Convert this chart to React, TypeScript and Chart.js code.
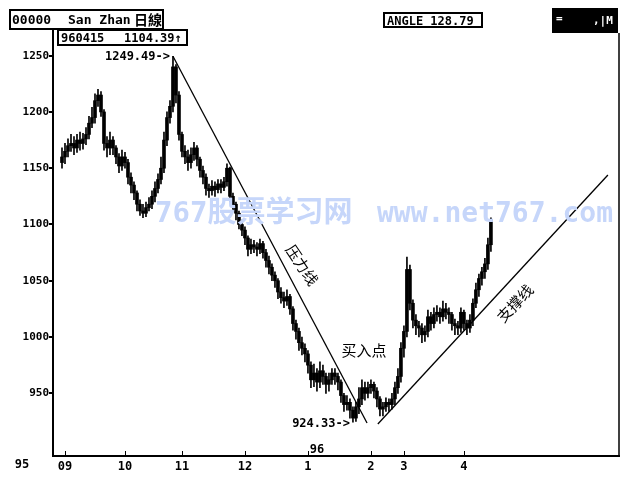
import React, { useEffect, useRef } from "react";
import { Chart, registerables } from "chart.js";
Chart.register(...registerables);

// Month tick positions (trading-day index) and labels
const monthTickIdx = [1, 21, 40, 61, 82, 103, 114, 134];
const monthLabels = ["09", "10", "11", "12", "1", "2", "3", "4"];
const yTickValues = [950, 1000, 1050, 1100, 1150, 1200, 1250];

// Daily OHLC, Sep 1995 - 15 Apr 1996
const opens = [
  1155, 1160, 1165, 1170, 1172, 1168, 1175, 1172, 1176, 1180,
  1190, 1195, 1210, 1215, 1200, 1172, 1168, 1175, 1168, 1160,
  1152, 1160, 1155, 1142, 1135, 1128, 1118, 1112, 1110, 1115,
  1118, 1125, 1132, 1140, 1150, 1175, 1195, 1205, 1240, 1215,
  1180, 1165, 1160, 1155, 1162, 1168, 1158, 1148, 1142, 1132,
  1130, 1134, 1131, 1136, 1133, 1138, 1150, 1125, 1118, 1110,
  1100, 1095, 1088, 1078, 1082, 1080, 1078, 1083, 1075, 1068,
  1062, 1055, 1050, 1040, 1035, 1032, 1036, 1025, 1012, 1005,
  995, 990, 985, 975, 962, 968, 960, 970, 965, 958,
  962, 968, 965, 960, 948, 940, 942, 935, 928, 938,
  945, 955, 950, 955, 958, 952, 945, 936, 938, 942,
  940, 945, 955, 965, 990, 1005, 1060, 1030, 1015, 1010,
  1008, 1002, 1005, 1018, 1012, 1020, 1022, 1018, 1025, 1022,
  1020, 1012, 1010, 1008, 1022, 1012, 1008, 1015, 1030, 1042,
  1052, 1058, 1065, 1082,
];
const closes = [
  1160, 1165, 1170, 1172, 1168, 1175, 1172, 1176, 1180, 1190,
  1195, 1210, 1215, 1200, 1172, 1168, 1175, 1168, 1160, 1152,
  1160, 1155, 1142, 1135, 1128, 1118, 1112, 1110, 1115, 1118,
  1125, 1132, 1140, 1150, 1175, 1195, 1205, 1240, 1215, 1180,
  1165, 1160, 1155, 1162, 1168, 1158, 1148, 1142, 1132, 1130,
  1134, 1131, 1136, 1133, 1138, 1150, 1125, 1118, 1110, 1100,
  1095, 1088, 1078, 1082, 1080, 1078, 1083, 1075, 1068, 1062,
  1055, 1050, 1040, 1035, 1032, 1036, 1025, 1012, 1005, 995,
  990, 985, 975, 962, 968, 960, 970, 965, 958, 962,
  968, 965, 960, 948, 940, 942, 935, 928, 938, 945,
  955, 950, 955, 958, 952, 945, 936, 938, 942, 940,
  945, 955, 965, 990, 1005, 1060, 1030, 1015, 1010, 1008,
  1002, 1005, 1018, 1012, 1020, 1022, 1018, 1025, 1022, 1020,
  1012, 1010, 1008, 1022, 1012, 1008, 1015, 1030, 1042, 1052,
  1058, 1065, 1082, 1104.39,
];
const highs = [
  1168, 1172, 1176, 1180, 1178, 1180, 1182, 1181, 1186, 1196,
  1204, 1216, 1220, 1218, 1202, 1178, 1182, 1178, 1170, 1163,
  1166, 1164, 1158, 1146, 1138, 1130, 1122, 1118, 1120, 1124,
  1130, 1138, 1145, 1160, 1182, 1200, 1210, 1249.49, 1242, 1218,
  1182, 1170, 1166, 1168, 1173, 1170, 1160, 1152, 1145, 1136,
  1139, 1138, 1140, 1140, 1142, 1154, 1151, 1128, 1120, 1112,
  1104, 1098, 1090, 1087, 1086, 1084, 1087, 1085, 1078, 1072,
  1065, 1058, 1052, 1044, 1040, 1042, 1038, 1027, 1015, 1008,
  1000, 994, 988, 978, 976, 972, 978, 975, 968, 968,
  972, 972, 968, 962, 950, 948, 945, 938, 942, 955,
  962, 960, 960, 962, 960, 955, 947, 942, 946, 945,
  950, 960, 972, 995, 1010, 1071, 1064, 1033, 1020, 1014,
  1012, 1010, 1024, 1022, 1026, 1028, 1026, 1032, 1030, 1026,
  1022, 1016, 1014, 1026, 1024, 1015, 1020, 1034, 1048, 1056,
  1062, 1070, 1088, 1106,
];
const lows = [
  1150, 1154, 1160, 1165, 1162, 1164, 1166, 1167, 1171, 1176,
  1186, 1190, 1205, 1196, 1166, 1160, 1162, 1162, 1154, 1146,
  1148, 1150, 1136, 1128, 1122, 1112, 1108, 1106, 1107, 1112,
  1114, 1120, 1128, 1136, 1146, 1170, 1190, 1200, 1208, 1175,
  1160, 1154, 1148, 1150, 1157, 1152, 1142, 1136, 1126, 1124,
  1126, 1125, 1128, 1128, 1130, 1134, 1120, 1112, 1104, 1096,
  1090, 1082, 1072, 1074, 1075, 1072, 1074, 1070, 1062, 1056,
  1050, 1044, 1034, 1030, 1026, 1028, 1020, 1006, 998, 988,
  984, 978, 968, 955, 956, 952, 955, 958, 950, 952,
  958, 958, 953, 942, 934, 935, 928, 924.33, 925, 932,
  940, 944, 946, 950, 946, 938, 930, 930, 934, 934,
  936, 940, 950, 960, 982, 1000, 1024, 1008, 1002, 1000,
  995, 996, 1000, 1006, 1008, 1014, 1012, 1014, 1016, 1012,
  1006, 1002, 1002, 1004, 1006, 1002, 1004, 1010, 1026, 1036,
  1046, 1052, 1060, 1076,
];

// Trend lines (day index, price)
const resistanceLine = [
  { x: 37, y: 1249.49 },
  { x: 101.7, y: 923.6 },
];
const supportLine = [
  { x: 105.3, y: 922.7 },
  { x: 182, y: 1144 },
];

const peakIdx = 37;
const peakVal = 1249.49;
const lowIdx = 97;
const lowVal = 924.33;

const MONO = '"DejaVu Sans Mono", "Noto Sans CJK TC", monospace';
const CJK = '"Noto Sans CJK SC", sans-serif';

const overlayPlugin = {
  id: "overlay",
  beforeDraw(chart: any) {
    const ctx = chart.ctx;
    ctx.save();
    ctx.fillStyle = "#fff";
    ctx.fillRect(0, 0, chart.width, chart.height);
    ctx.restore();
  },
  afterDraw(chart: any) {
    const ctx = chart.ctx;
    const xs = chart.scales.x;
    const ys = chart.scales.y;
    const area = chart.chartArea;
    ctx.save();
    ctx.strokeStyle = "#000";
    ctx.fillStyle = "#000";

    // right border
    ctx.lineWidth = 1.5;
    ctx.beginPath();
    ctx.moveTo(area.right, 33);
    ctx.lineTo(area.right, area.bottom);
    ctx.stroke();

    // inside month ticks
    ctx.lineWidth = 1;
    monthTickIdx.forEach((v) => {
      const px = Math.round(xs.getPixelForValue(v)) + 0.5;
      ctx.beginPath();
      ctx.moveTo(px, area.bottom);
      ctx.lineTo(px, area.bottom - 5);
      ctx.stroke();
    });

    // title box
    ctx.lineWidth = 2;
    ctx.strokeRect(10, 10, 153, 19);
    ctx.textBaseline = "alphabetic";
    ctx.textAlign = "left";
    ctx.font = `bold 13px ${MONO}`;
    ctx.fillText("00000", 12, 24);
    ctx.fillText("San Zhan", 68, 24);
    ctx.font = `bold 14px "Noto Sans CJK TC", sans-serif`;
    ctx.fillText("日線", 134, 25);

    // date/value box
    ctx.strokeRect(58, 30, 129, 15);
    ctx.font = `bold 12px ${MONO}`;
    ctx.fillText("960415", 61, 42);
    ctx.fillText("1104.39↑", 124, 42);

    // angle box
    ctx.strokeRect(384, 13, 98, 14);
    ctx.fillText("ANGLE 128.79", 387, 25);

    // black box at top right
    ctx.fillRect(552, 8, 66, 25);
    ctx.fillStyle = "#fff";
    ctx.font = `bold 11px ${MONO}`;
    ctx.fillText("=", 556, 22);
    ctx.fillText(",|M", 593, 24);
    ctx.fillStyle = "#000";

    // peak / low labels
    ctx.font = `bold 12px ${MONO}`;
    ctx.textAlign = "right";
    ctx.textBaseline = "middle";
    ctx.fillText("1249.49->", xs.getPixelForValue(peakIdx) - 3, ys.getPixelForValue(peakVal) + 1);
    ctx.fillText("924.33->", xs.getPixelForValue(lowIdx) - 3, ys.getPixelForValue(lowVal) + 2);

    // year labels
    ctx.textAlign = "center";
    ctx.textBaseline = "alphabetic";
    ctx.fillText("96", xs.getPixelForValue(monthTickIdx[4]) + 9, 453);
    ctx.textBaseline = "middle";
    ctx.fillText("95", 22, 465);

    // Chinese annotations
    ctx.font = `15px ${CJK}`;
    ctx.textAlign = "center";
    ctx.textBaseline = "middle";
    ctx.fillText("买入点", xs.getPixelForValue(100.7), ys.getPixelForValue(988.5));

    const rotText = (t: string, xi: number, yv: number, ang: number) => {
      ctx.save();
      ctx.translate(xs.getPixelForValue(xi), ys.getPixelForValue(yv));
      ctx.rotate((ang * Math.PI) / 180);
      ctx.fillText(t, 0, 0);
      ctx.restore();
    };
    rotText("压力线", 80, 1064, 56);
    rotText("支撑线", 151, 1030, -47);

    // watermark
    ctx.fillStyle = "rgb(198,214,250)";
    ctx.textAlign = "left";
    ctx.textBaseline = "alphabetic";
    ctx.font = `bold 29px "DejaVu Sans Mono", "Noto Sans CJK SC", monospace`;
    ctx.fillText("767股票学习网", 155, 222);
    ctx.font = `bold 28px "DejaVu Sans Mono", monospace`;
    ctx.fillText("www.net767.com", 377, 222);

    ctx.restore();
  },
};

export default function App() {
  const ref = useRef<HTMLCanvasElement | null>(null);
  useEffect(() => {
    document.body.style.margin = "0";
    const canvas = ref.current!;
    const wicks = closes.map((c, i) => ({ x: i, y: [lows[i], highs[i]] }));
    const bodies = closes.map((c, i) => {
      const lo = Math.min(opens[i], c);
      const hi = Math.max(opens[i], c);
      return { x: i, y: hi - lo < 1.5 ? [lo - 0.8, hi + 0.8] : [lo, hi] };
    });
    const chart = new Chart(canvas, {
      type: "bar",
      data: {
        datasets: [
          {
            type: "bar",
            data: wicks as any,
            backgroundColor: "#000",
            borderWidth: 0,
            barThickness: 1,
            grouped: false,
          } as any,
          {
            type: "bar",
            data: bodies as any,
            backgroundColor: "#000",
            borderWidth: 0,
            barThickness: 3,
            grouped: false,
          } as any,
          {
            type: "line",
            data: resistanceLine,
            borderColor: "#000",
            borderWidth: 1.3,
            pointRadius: 0,
            fill: false,
          } as any,
          {
            type: "line",
            data: supportLine,
            borderColor: "#000",
            borderWidth: 1.3,
            pointRadius: 0,
            fill: false,
          } as any,
        ],
      },
      options: {
        animation: false,
        responsive: false,
        maintainAspectRatio: false,
        layout: { padding: { left: 0, right: 11, top: 30, bottom: 0 } },
        plugins: { legend: { display: false }, tooltip: { enabled: false } },
        scales: {
          x: {
            type: "linear",
            min: -3,
            max: 185.7,
            offset: false,
            grid: { drawOnChartArea: false, drawTicks: false, offset: false },
            border: { color: "#000", width: 2 },
            afterBuildTicks: (scale: any) => {
              scale.ticks = monthTickIdx.map((v) => ({ value: v }));
            },
            afterFit: (scale: any) => {
              scale.height = 24;
            },
            ticks: {
              autoSkip: false,
              maxRotation: 0,
              padding: 4,
              color: "#000",
              font: { family: MONO, size: 12, weight: "bold" },
              callback: (_v: any, i: number) => monthLabels[i],
            },
          },
          y: {
            type: "linear",
            min: 894.3,
            max: 1272.8,
            grid: { drawOnChartArea: false, drawTicks: true, tickLength: 4, color: "#000", lineWidth: 2 },
            border: { color: "#000", width: 2 },
            afterBuildTicks: (scale: any) => {
              scale.ticks = yTickValues.map((v) => ({ value: v }));
            },
            afterFit: (scale: any) => {
              scale.width = 53;
            },
            ticks: {
              padding: 0,
              color: "#000",
              font: { family: MONO, size: 11, weight: "bold" },
              callback: (v: any) => String(v),
            },
          },
        },
      },
      plugins: [overlayPlugin],
    });
    return () => chart.destroy();
  }, []);
  return <canvas ref={ref} width={630} height={480} style={{ display: "block" }} />;
}
